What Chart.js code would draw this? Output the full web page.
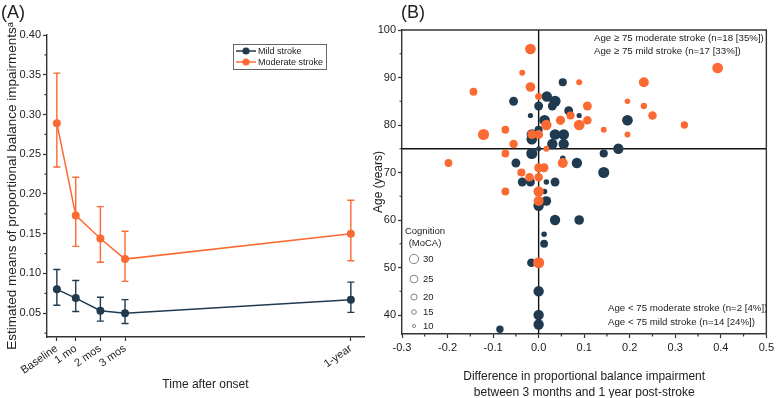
<!DOCTYPE html>
<html>
<head>
<meta charset="utf-8">
<script src="https://cdn.jsdelivr.net/npm/chart.js@4.4.1/dist/chart.umd.min.js"></script>
<style>
  body { margin: 0; background: #fff; }
  #wrap { position: relative; width: 777px; height: 398px; }
  canvas { position: absolute; left: 0; top: 0; }
</style>
</head>
<body>
<div id="wrap">
  <canvas id="chartA" width="777" height="398"></canvas>
  <canvas id="chartB" width="777" height="398"></canvas>
</div>
<script>
// ---- (A) estimated means over time ----
const timeLabels = ['Baseline', '1 mo', '2 mos', '3 mos', '1-year'];
const timeDays = [7, 30, 60, 90, 365];
const mildMean = [0.080, 0.069, 0.053, 0.050, 0.067];
const mildLow = [0.060, 0.052, 0.040, 0.037, 0.051];
const mildHigh = [0.105, 0.091, 0.070, 0.067, 0.089];
const modMean = [0.289, 0.173, 0.144, 0.118, 0.150];
const modLow = [0.234, 0.134, 0.114, 0.090, 0.116];
const modHigh = [0.352, 0.221, 0.184, 0.153, 0.192];
const balanceTicks = [0.05, 0.10, 0.15, 0.20, 0.25, 0.30, 0.35, 0.40];

// ---- (B) change 3 mo -> 1 year vs age, size = MoCA ----
const modDiff = [-0.018, -0.036, -0.018, -0.143, 0.089, 0.231, 0.393, 0.0, 0.195, 0.107,
  0.231, 0.250, 0.048, 0.070, 0.107, 0.089, 0.017, 0.320, 0.143, 0.195,
  -0.073, -0.121, -0.015, 0.0, -0.055, 0.017, -0.073, -0.198, 0.053, 0.0,
  0.012, -0.038, -0.020, 0.0, -0.073, 0.0, 0.0, 0.0];
const modAge = [96, 91, 88, 87, 89, 89, 92, 86, 85, 84,
  84, 82, 81, 82, 81, 80, 80, 80, 79, 78,
  79, 78, 78, 78, 76, 75, 74, 72, 72, 71,
  71, 70, 69, 69, 66, 66, 64, 51];
const modMoca = [29, 16, 26, 21, 16, 27, 29, 19, 15, 24,
  17, 23, 25, 22, 23, 29, 28, 20, 16, 16,
  21, 30, 24, 24, 23, 16, 21, 21, 27, 24,
  24, 22, 23, 23, 21, 28, 27, 30];

const mildDiff = [0.053, -0.055, 0.018, 0.036, 0.030, 0.0, -0.018, 0.066, 0.089, 0.013,
  0.195, 0.0, -0.015, -0.015, 0.036, 0.055, 0.030, 0.055, 0.0, 0.175,
  0.143, -0.015, -0.050, 0.053, 0.084, 0.143, -0.036, -0.018, 0.017, 0.036,
  0.013, 0.017, 0.0, 0.036, 0.089, 0.012, 0.012, -0.016, 0.0, 0.0,
  0.0, -0.085];
const mildAge = [89, 85, 86, 85, 84, 84, 82, 83, 82, 81,
  81, 79, 78, 77, 78, 78, 76, 76, 75, 75,
  74, 74, 72, 73, 72, 70, 68, 68, 68, 68,
  66, 64, 63, 60, 60, 57, 55, 51, 45, 40,
  38, 37];
const mildMoca = [22, 24, 28, 30, 24, 24, 14, 24, 14, 29,
  29, 22, 28, 29, 29, 29, 28, 28, 14, 28,
  22, 30, 24, 15, 28, 30, 24, 24, 15, 24,
  15, 26, 28, 28, 26, 15, 21, 23, 28, 28,
  28, 20];

const ageTicks = [40, 50, 60, 70, 80, 90, 100];
const diffTicks = [-0.3, -0.2, -0.1, 0.0, 0.1, 0.2, 0.3, 0.4, 0.5];
const mocaLegend = [30, 25, 20, 15, 10];
const ageCut = 75;
const diffCut = 0;

const navy = '#203a50';
const orange = '#fb6a32';
const axisColor = '#333';
const textColor = '#222';
const rScale = 0.185;   // bubble radius per MoCA point
const keyScale = 0.155; // size key circles are drawn a bit smaller

Chart.defaults.font.family = "'Liberation Sans', Arial, sans-serif";
Chart.defaults.color = textColor;

// minor ticks half way between the major ones
function drawMinor(ctx, scale, majors, len) {
  const step = majors[1] - majors[0];
  const vals = [majors[0] - step / 2].concat(majors.map(v => v + step / 2));
  ctx.beginPath();
  vals.forEach(v => {
    if (v < scale.min || v > scale.max) return;
    const p = scale.getPixelForValue(v);
    if (scale.isHorizontal()) {
      ctx.moveTo(p, scale.top); ctx.lineTo(p, scale.top + len);
    } else {
      ctx.moveTo(scale.right, p); ctx.lineTo(scale.right - len, p);
    }
  });
  ctx.stroke();
}

const errorSets = [
  { color: navy, low: mildLow, high: mildHigh },
  { color: orange, low: modLow, high: modHigh }
];

const panelA = {
  id: 'panelA',
  beforeDatasetsDraw(chart) {
    const { ctx, scales: { x, y } } = chart;
    ctx.save();
    ctx.lineWidth = 1.4;
    errorSets.forEach(s => {
      ctx.strokeStyle = s.color;
      ctx.beginPath();
      timeDays.forEach((d, i) => {
        const px = x.getPixelForValue(d);
        const lo = y.getPixelForValue(s.low[i]);
        const hi = y.getPixelForValue(s.high[i]);
        ctx.moveTo(px, lo); ctx.lineTo(px, hi);
        ctx.moveTo(px - 3.5, lo); ctx.lineTo(px + 3.5, lo);
        ctx.moveTo(px - 3.5, hi); ctx.lineTo(px + 3.5, hi);
      });
      ctx.stroke();
    });
    ctx.restore();
  },
  afterDraw(chart) {
    const { ctx, scales: { y } } = chart;
    ctx.save();
    ctx.strokeStyle = axisColor;
    ctx.lineWidth = 1.2;
    drawMinor(ctx, y, balanceTicks, 2.5);

    // legend box
    ctx.fillStyle = '#fff';
    ctx.strokeStyle = '#666';
    ctx.lineWidth = 1;
    ctx.fillRect(233, 44, 93, 25);
    ctx.strokeRect(233.5, 44.5, 93, 25);
    const items = [['Mild stroke', navy, 51], ['Moderate stroke', orange, 62]];
    ctx.font = "9px 'Liberation Sans', Arial, sans-serif";
    ctx.textBaseline = 'middle';
    items.forEach(([txt, col, yy]) => {
      ctx.strokeStyle = col;
      ctx.lineWidth = 1.5;
      ctx.beginPath(); ctx.moveTo(236, yy); ctx.lineTo(256, yy); ctx.stroke();
      ctx.fillStyle = col;
      ctx.beginPath(); ctx.arc(246, yy, 3.6, 0, Math.PI * 2); ctx.fill();
      ctx.fillStyle = textColor;
      ctx.fillText(txt, 258, yy + 0.5);
    });

    ctx.font = "18px 'Liberation Sans', Arial, sans-serif";
    ctx.fillStyle = textColor;
    ctx.fillText('(A)', 1, 13);
    ctx.restore();
  }
};

new Chart(document.getElementById('chartA'), {
  type: 'line',
  data: {
    datasets: [
      {
        label: 'Mild stroke',
        data: timeDays.map((d, i) => ({ x: d, y: mildMean[i] })),
        borderColor: navy, backgroundColor: navy,
        borderWidth: 1.5, pointRadius: 4, pointBorderWidth: 0
      },
      {
        label: 'Moderate stroke',
        data: timeDays.map((d, i) => ({ x: d, y: modMean[i] })),
        borderColor: orange, backgroundColor: orange,
        borderWidth: 1.5, pointRadius: 4, pointBorderWidth: 0
      }
    ]
  },
  options: {
    responsive: false,
    animation: false,
    events: [],
    layout: { padding: { left: 4, top: 35, right: 413, bottom: 6 } },
    plugins: { legend: { display: false }, tooltip: { enabled: false } },
    scales: {
      x: {
        type: 'linear', min: -5, max: 381,
        afterBuildTicks: s => { s.ticks = timeDays.map(v => ({ value: v })); },
        afterFit: s => { s.height = 55; },
        grid: { drawOnChartArea: false, tickLength: 4, tickColor: axisColor, tickWidth: 1.2 },
        border: { color: axisColor, width: 1.4 },
        ticks: {
          autoSkip: false, minRotation: 35, maxRotation: 35, padding: 1,
          font: { size: 11 }, color: textColor,
          callback: (v, i) => timeLabels[i]
        },
        title: { display: true, text: 'Time after onset', font: { size: 12 }, padding: { top: 0, bottom: 0 }, color: textColor }
      },
      y: {
        min: 0.02, max: 0.40,
        afterBuildTicks: s => { s.ticks = balanceTicks.map(v => ({ value: v })); },
        afterFit: s => { s.width = 43; },
        grid: { drawOnChartArea: false, tickLength: 4, tickColor: axisColor, tickWidth: 1.2 },
        border: { color: axisColor, width: 1.4 },
        ticks: { padding: 2, font: { size: 11 }, color: textColor, callback: v => v.toFixed(2) },
        title: {
          display: true, text: 'Estimated means of proportional balance impairmentsᵃ',
          font: { size: 13.5 }, padding: { top: 0, bottom: 0 }, color: textColor
        }
      }
    }
  },
  plugins: [panelA]
});

// ---- panel B ----
const panelB = {
  id: 'panelB',
  beforeDatasetsDraw(chart) {
    const { ctx, chartArea: a, scales: { x, y } } = chart;
    ctx.save();
    ctx.strokeStyle = '#111';
    ctx.lineWidth = 1.4;
    const x0 = x.getPixelForValue(diffCut);
    const y0 = y.getPixelForValue(ageCut);
    ctx.beginPath();
    ctx.moveTo(x0, a.top); ctx.lineTo(x0, a.bottom);
    ctx.moveTo(a.left, y0); ctx.lineTo(a.right, y0);
    ctx.stroke();
    ctx.strokeStyle = axisColor;
    ctx.beginPath();
    ctx.moveTo(a.left, a.top); ctx.lineTo(a.right, a.top); ctx.lineTo(a.right, a.bottom);
    ctx.stroke();
    ctx.restore();
  },
  afterDraw(chart) {
    const { ctx, scales: { x, y } } = chart;
    ctx.save();
    ctx.strokeStyle = axisColor;
    ctx.lineWidth = 1.2;
    drawMinor(ctx, x, diffTicks, 2.5);
    drawMinor(ctx, y, ageTicks, 2.5);

    ctx.fillStyle = textColor;
    ctx.textBaseline = 'middle';
    ctx.font = "9.7px 'Liberation Sans', Arial, sans-serif";
    ctx.fillText('Age \u2265 75 moderate stroke (n=18 [35%])', 594, 38);
    ctx.fillText('Age \u2265 75 mild stroke (n=17 [33%])', 594, 51);
    ctx.fillText('Age < 75 moderate stroke (n=2 [4%])', 608, 308);
    ctx.fillText('Age < 75 mild stroke (n=14 [24%])', 608, 322);

    // cognition size key
    ctx.font = "9.5px 'Liberation Sans', Arial, sans-serif";
    ctx.textAlign = 'center';
    ctx.fillText('Cognition', 425, 231);
    ctx.fillText('(MoCA)', 425, 243);
    ctx.textAlign = 'left';
    const keyY = [259, 279, 297, 312, 326];
    ctx.strokeStyle = '#666';
    ctx.lineWidth = 0.8;
    mocaLegend.forEach((m, i) => {
      ctx.beginPath();
      ctx.arc(414, keyY[i], m * keyScale, 0, Math.PI * 2);
      ctx.stroke();
      ctx.fillText(String(m), 423, keyY[i]);
    });

    ctx.font = "18px 'Liberation Sans', Arial, sans-serif";
    ctx.fillText('(B)', 401, 13);
    ctx.restore();
  }
};

new Chart(document.getElementById('chartB'), {
  type: 'bubble',
  data: {
    datasets: [
      {
        label: 'Moderate stroke',
        data: modDiff.map((v, i) => ({ x: v, y: modAge[i], r: modMoca[i] * rScale })),
        backgroundColor: orange, borderWidth: 0
      },
      {
        label: 'Mild stroke',
        data: mildDiff.map((v, i) => ({ x: v, y: mildAge[i], r: mildMoca[i] * rScale })),
        backgroundColor: navy, borderWidth: 0
      }
    ]
  },
  options: {
    responsive: false,
    animation: false,
    events: [],
    clip: false,
    layout: { padding: { left: 371, top: 30, right: 8, bottom: 0 } },
    plugins: { legend: { display: false }, tooltip: { enabled: false } },
    scales: {
      x: {
        min: -0.3, max: 0.5,
        afterBuildTicks: s => { s.ticks = diffTicks.map(v => ({ value: v })); },
        afterFit: s => { s.height = 64; },
        grid: { drawOnChartArea: false, tickLength: 4, tickColor: axisColor, tickWidth: 1.2 },
        border: { color: axisColor, width: 1.4 },
        ticks: { maxRotation: 0, padding: 3, font: { size: 11 }, color: textColor, callback: v => v.toFixed(1) },
        title: {
          display: true,
          text: ['Difference in proportional balance impairment', 'between 3 months and 1 year post-stroke'],
          font: { size: 12, lineHeight: 1.3 }, padding: { top: 0, bottom: -2 }, color: textColor
        }
      },
      y: {
        min: 36, max: 100,
        afterBuildTicks: s => { s.ticks = ageTicks.map(v => ({ value: v })); },
        afterFit: s => { s.width = 31; },
        grid: { drawOnChartArea: false, tickLength: 4, tickColor: axisColor, tickWidth: 1.2 },
        border: { color: axisColor, width: 1.4 },
        ticks: { padding: 2, font: { size: 11 }, color: textColor },
        title: { display: true, text: 'Age (years)', font: { size: 12 }, padding: { top: 0, bottom: 0 }, color: textColor }
      }
    }
  },
  plugins: [panelB]
});
</script>
</body>
</html>
